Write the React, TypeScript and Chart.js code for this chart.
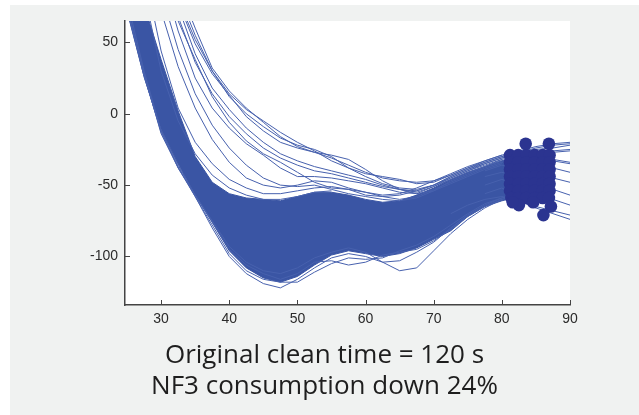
import React, { useEffect, useRef } from "react";
import { Chart, registerables } from "chart.js";

Chart.register(...registerables);

// shared x grid for all traces
const xs = [25, 27.5, 30, 32.5, 35, 37.5, 40, 42.5, 45, 47.5, 50, 52.5, 55, 57.5, 60, 62.5, 65, 67.5, 70, 72.5, 75, 77.5, 80, 82.5, 85, 87.5, 90];
const xTicks = [30, 40, 50, 60, 70, 80, 90];
const yTicks = [-100, -50, 0, 50];

// envelope of the dense bundle of traces
const bandUpper = [113, 76, 38, 2, -30, -48, -56, -59, -60, -61, -58, -55, -55, -57, -60, -62, -61, -57, -52, -46, -41, -37, -33, -30, null, null, null];
const bandLower = [72, 26, -11, -35, -57, -76, -96, -108, -115, -118, -114, -106, -99, -96, -98, -100, -98, -94, -88, -82, -72, -65, -61, -58, null, null, null];

// individual traces
const lineR1 = [null, null, null, 90, 60, 32, 16, 4, -6, -16, -23, -27, -31, -36, -41, -45, -47, -48, -47, -43, -38, -33, -29, -26, -23, -21, -20];
const lineR2 = [null, null, null, 78, 49, 28, 13, -2, -12, -20, -24, -27, -29, -32, -39, -47, -53, -55, -51, -46, -41, -37, -33, -30, -28, -27, -26];
const lineR3 = [null, null, null, 80, 52, 30, 14, 3, -5, -13, -20, -26, -33, -38, -42, -44, -46, -49, -48, -43, -38, -34, -30, -27, -24, -22, -21];
const lineL5 = [null, null, null, 85, 55, 30, 12, 0, -9, -17, -22, -25, -30, -38, -44, -49, -52, -53, -50, -45, -40, -35, -31, -29, -31, -33, -35];
const lineL4 = [null, null, 105, 75, 42, 18, 3, -10, -20, -28, -33, -37, -40, -43, -46, -50, -53, -56, -54, -49, -44, -39, -35, null, null, null, null];
const lineM1 = [null, null, 100, 58, 25, 4, -10, -21, -29, -38, -44, -44, -45, -47, -49, -52, -55, -56, -51, -45, -40, -36, -32, null, null, null, null];
const lineM2 = [null, null, 95, 65, 38, 12, -6, -19, -28, -34, -41, -48, -52, -53, -55, -58, -60, -58, -53, -48, -43, -38, -34, -32, -35, -38, -41];
const lineM3 = [null, null, 100, 68, 36, 14, -2, -14, -24, -31, -36, -40, -42, -45, -48, -51, -53, -54, -50, -44, -39, -35, -31, -28, -29, -32, -34];
const lineL3 = [null, null, 85, 45, 14, -8, -24, -36, -45, -50, -51, -50, -53, -56, -58, -60, -61, -59, -54, -47, -42, -37, -32, -29, -27, -26, -25];
const lineL2 = [null, 110, 72, 33, 4, -18, -34, -45, -50, -52, -50, -47, -48, -52, -55, -57, -56, -52, -47, -42, -37, -33, -29, null, null, null, null];
const lineL1 = [null, 100, 44, 4, -20, -35, -46, -52, -56, -56, -54, -52, -51, -53, -57, -58, -57, -54, -50, -44, -39, -34, -30, -27, -25, -24, -22];
const lineL0 = [null, 85, 30, -5, -28, -43, -52, -57, -60, -60, -58, -55, -54, null, null, null, null, null, null, null, null, null, null, null, null, null, null];
const lineB1 = [80, 30, -12, -38, -58, -80, -100, -112, -119, -122, -116, -108, -101, -98, -100, -104, -103, -97, -90, -80, -71, -64, -59, -55, null, null, null];
const lineB2 = [75, 28, -14, -38, -57, -75, -93, -104, -110, -112, -108, -101, -97, -94, -97, -104, -110, -108, -96, -84, -74, -66, -60, -57, null, null, null];
const lineB3 = [74, 27, -13, -37, -58, -78, -98, -110, -116, -118, -118, -111, -105, -101, -102, -101, -96, -92, -86, -78, -70, -63, -59, null, null, null, null];
const lineB4 = [73, 26, -12, -36, -57, -76, -95, -106, -112, -116, -112, -104, -103, -106, -104, -99, -97, -95, -89, -81, -72, -65, -60, null, null, null, null];
const lineE1 = [null, null, null, null, null, null, null, null, null, null, null, null, null, null, null, null, null, null, null, -70, -64, -60, -58, -61, -66, -70, -74];
const lineE2 = [null, null, null, null, null, null, null, null, null, null, null, null, null, null, null, null, null, null, null, null, null, -50, -46, -50, -56, -60, -64];
const lineE3 = [null, null, null, null, null, null, null, null, null, null, null, null, null, null, null, null, null, null, null, null, null, -44, -41, -44, -48, -53, -57];
const lineE4 = [null, null, null, null, null, null, null, null, null, null, null, null, null, null, null, null, null, null, null, null, null, -40, -36, -38, -42, -45, -48];
const lineE5 = [null, null, null, null, null, null, null, null, null, null, null, null, null, null, null, null, null, null, null, null, null, -56, -52, -58, -65, -68, -71];

const traces = [lineR1, lineR2, lineR3, lineL5, lineL4, lineM1, lineM2, lineM3, lineL3, lineL2, lineL1, lineL0, lineB1, lineB2, lineB3, lineB4, lineE1, lineE2, lineE3, lineE4, lineE5];

// end-point markers (dark cluster)
const clusterPoints = [
  [81.2, -29], [82.4, -29], [83.6, -29], [84.8, -29], [86.0, -29], [87.0, -29],
  [81.2, -34], [82.4, -34], [83.6, -34], [84.8, -34], [86.0, -34], [87.0, -34],
  [81.2, -39], [82.4, -39], [83.6, -39], [84.8, -39], [86.0, -39], [87.0, -39],
  [81.2, -44], [82.4, -44], [83.6, -44], [84.8, -44], [86.0, -44], [87.0, -44],
  [81.2, -49], [82.4, -49], [83.6, -49], [84.8, -49], [86.0, -49], [87.0, -49],
  [81.2, -54], [82.4, -54], [83.6, -54], [84.8, -54], [86.0, -54], [87.0, -54],
  [81.4, -59], [82.4, -59], [83.6, -59], [84.8, -59], [86.0, -59], [86.9, -59],
  [83.5, -21], [86.9, -21], [82.5, -64], [87.2, -65], [86.1, -71], [81.6, -62], [84.6, -62],
];

const captionLines = ["Original clean time = 120 s", "NF3 consumption down 24%"];

const BAND = "#3a55a4";
const LINE = "#4761ae";
const DOT = "#2b3490";

const toXY = (arr: (number | null)[]) => xs.map((x, i) => ({ x, y: arr[i] }));

export default function App() {
  const ref = useRef<HTMLCanvasElement>(null);

  useEffect(() => {
    const canvas = ref.current;
    if (!canvas) return;

    const whiteArea = {
      id: "whiteArea",
      beforeDraw(chart: any) {
        const { ctx, chartArea: a } = chart;
        ctx.save();
        ctx.fillStyle = "#ffffff";
        ctx.fillRect(a.left, a.top, a.right - a.left, a.bottom - a.top);
        ctx.restore();
      },
    };

    const innerTicks = {
      id: "innerTicks",
      beforeDatasetsDraw(chart: any) {
        const { ctx, chartArea: a, scales } = chart;
        ctx.save();
        ctx.strokeStyle = "#444";
        ctx.lineWidth = 1;
        xTicks.forEach((v) => {
          const px = Math.round(scales.x.getPixelForValue(v)) + 0.5;
          ctx.beginPath();
          ctx.moveTo(px, a.bottom);
          ctx.lineTo(px, a.bottom - 5);
          ctx.stroke();
        });
        yTicks.forEach((v) => {
          const py = Math.round(scales.y.getPixelForValue(v)) + 0.5;
          ctx.beginPath();
          ctx.moveTo(a.left, py);
          ctx.lineTo(a.left + 5, py);
          ctx.stroke();
        });
        ctx.restore();
      },
    };

    const datasets: any[] = [
      {
        label: "end points",
        data: clusterPoints.map(([x, y]) => ({ x, y })),
        showLine: false,
        pointRadius: 6.3,
        pointBackgroundColor: DOT,
        pointBorderColor: DOT,
        pointBorderWidth: 0,
      },
      ...traces.map((t, i) => ({
        label: "trace " + i,
        data: toXY(t),
        borderColor: LINE,
        borderWidth: 1,
        pointRadius: 0,
        fill: false,
        tension: 0,
      })),
      {
        label: "band upper",
        data: toXY(bandUpper),
        borderColor: BAND,
        borderWidth: 1,
        pointRadius: 0,
        fill: false,
      },
      {
        label: "band lower",
        data: toXY(bandLower),
        borderColor: BAND,
        borderWidth: 1,
        pointRadius: 0,
        backgroundColor: BAND,
        fill: "-1",
      },
    ];

    const tickFont = { family: '"Liberation Sans", Arial, sans-serif', size: 14 };

    const chart = new Chart(canvas, {
      type: "line",
      data: { datasets },
      plugins: [whiteArea, innerTicks],
      options: {
        responsive: false,
        animation: false,
        layout: { padding: { top: 21, right: 30, left: 0, bottom: 0 } },
        plugins: {
          legend: { display: false },
          tooltip: { enabled: false },
        },
        scales: {
          x: {
            type: "linear",
            min: 24.7,
            max: 90,
            afterBuildTicks: (s: any) => {
              s.ticks = xTicks.map((v) => ({ value: v }));
            },
            afterFit: (s: any) => {
              s.height = 35;
            },
            grid: { display: false, drawTicks: false },
            border: { display: true, color: "#444", width: 1.5 },
            ticks: { color: "#2b2b2b", font: tickFont, padding: 6, autoSkip: false, maxRotation: 0 },
          },
          y: {
            type: "linear",
            min: -134,
            max: 65,
            afterBuildTicks: (s: any) => {
              s.ticks = yTicks.map((v) => ({ value: v }));
            },
            afterFit: (s: any) => {
              s.width = 85;
            },
            grid: { display: false, drawTicks: false },
            border: { display: true, color: "#444", width: 1.5 },
            ticks: { color: "#2b2b2b", font: tickFont, padding: 7 },
          },
        },
      } as any,
    });

    return () => chart.destroy();
  }, []);

  return (
    <div style={{ position: "absolute", left: 0, top: 0, width: 639, height: 415, background: "#ffffff", overflow: "hidden" }}>
      <div style={{ position: "absolute", left: 10, top: 5, width: 629, height: 410, background: "#f0f2f1" }} />
      <canvas ref={ref} width={560} height={340} style={{ position: "absolute", left: 40, top: 0 }} />
      <div
        style={{
          position: "absolute",
          left: 10,
          width: 629,
          top: 338,
          textAlign: "center",
          fontFamily: '"Open Sans", sans-serif',
          fontSize: 26,
          lineHeight: "31px",
          color: "#1e1e1e",
        }}
      >
        {captionLines.map((t) => (
          <div key={t}>{t}</div>
        ))}
      </div>
    </div>
  );
}
